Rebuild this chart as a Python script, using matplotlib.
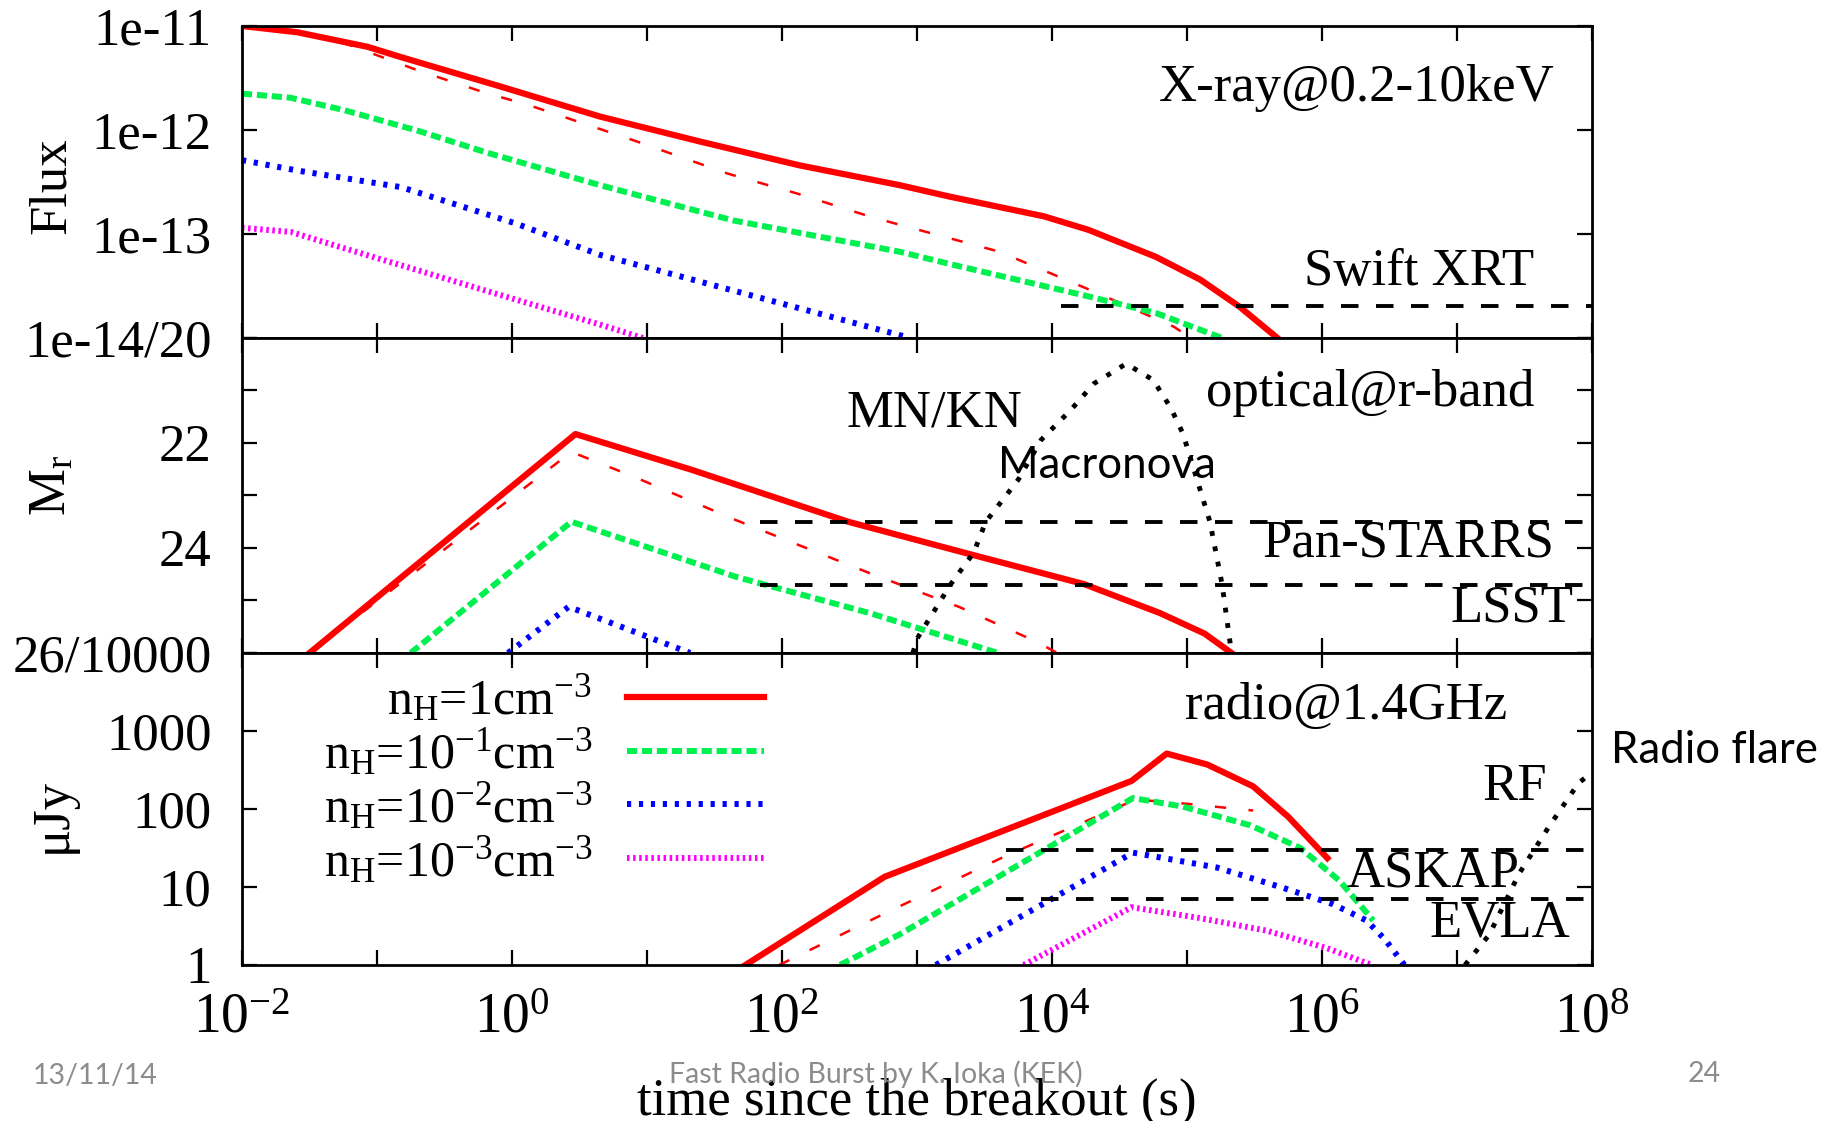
import numpy as np
import matplotlib
matplotlib.use("Agg")
import matplotlib.pyplot as plt
from matplotlib.ticker import FixedLocator, LogLocator, NullLocator, FuncFormatter, NullFormatter

plt.rcParams['font.family'] = ['Liberation Serif', 'DejaVu Serif']
plt.rcParams['mathtext.fontset'] = 'custom'
plt.rcParams['mathtext.rm'] = 'Liberation Serif'
plt.rcParams['mathtext.it'] = 'Liberation Serif'
plt.rcParams['mathtext.default'] = 'regular'

# ---------- data: log10(t [s]) and log10(value) ----------
# X-ray 0.2-10 keV flux
xr_n1_t = [-2, -1.59, -1.07, -0.82, -0.09, 0.65, 1.39, 2.13, 2.87, 3.24, 3.94, 4.27, 4.77, 5.10, 5.39, 5.67]
xr_n1_f = [-11.0, -11.06, -11.20, -11.30, -11.58, -11.87, -12.11, -12.34, -12.53, -12.64, -12.83, -12.96, -13.22, -13.44, -13.70, -14.0]
xr_alt_t = [-2, -1.55, -1.21, -0.69, -0.18, 0.10, 0.88, 1.60, 2.11, 2.67, 3.61, 4.34, 4.90, 5.03]
xr_alt_f = [-11.0, -11.06, -11.18, -11.43, -11.65, -11.75, -12.09, -12.42, -12.61, -12.84, -13.17, -13.57, -13.89, -14.0]
xr_n01_t = [-2, -1.64, -1.24, -0.69, -0.18, 0.65, 1.64, 2.87, 3.28, 4.27, 4.77, 5.26]
xr_n01_f = [-11.65, -11.69, -11.81, -12.01, -12.22, -12.53, -12.87, -13.17, -13.30, -13.60, -13.76, -14.0]
xr_n001_t = [-2, -1.59, -0.82, 0.03, 0.65, 1.80, 2.95]
xr_n001_f = [-12.29, -12.39, -12.55, -12.90, -13.20, -13.60, -14.0]
xr_n0001_t = [-2, -1.64, -1.21, 0.0, 0.65, 0.97]
xr_n0001_f = [-12.94, -12.98, -13.15, -13.62, -13.87, -14.0]
swift_t = [4.07, 8.0]
swift_f = [-13.69, -13.69]

# optical r-band absolute magnitude
op_n1_t = [-1.5, 0.47, 1.33, 2.49, 3.41, 4.24, 4.80, 5.13, 5.33]
op_n1_m = [26, 21.83, 22.51, 23.5, 24.13, 24.69, 25.24, 25.63, 26]
op_alt_t = [-1.5, 0.44, 0.90, 1.66, 2.65, 3.31, 3.88, 4.04]
op_alt_m = [26, 22.17, 22.64, 23.47, 24.48, 25.12, 25.78, 26]
op_n01_t = [-0.75, 0.44, 1.66, 2.65, 3.60]
op_n01_m = [26, 23.5, 24.55, 25.24, 26]
op_n001_t = [-0.03, 0.42, 1.32]
op_n001_m = [26, 25.12, 26]
mn_t = [2.97, 3.0, 3.25, 3.42, 3.51, 3.75, 3.92, 4.14, 4.31, 4.55, 4.75, 4.88, 4.97, 5.17, 5.26, 5.33]
mn_m = [26, 25.73, 24.69, 24.09, 23.5, 22.70, 21.94, 21.37, 20.87, 20.49, 20.80, 21.33, 21.82, 23.5, 24.69, 26]
panstarrs_t = [1.84, 8.0]
panstarrs_m = [23.5, 23.5]
lsst_t = [1.84, 8.0]
lsst_m = [24.7, 24.7]

# radio 1.4 GHz flux density (log10 uJy)
rd_n1_t = [1.73, 2.76, 4.59, 4.85, 5.15, 5.49, 5.75, 6.04]
rd_n1_s = [0, 1.13, 2.36, 2.71, 2.57, 2.29, 1.90, 1.37]
rd_alt_t = [1.98, 2.76, 3.66, 4.18, 4.62, 4.92, 5.49]
rd_alt_s = [0, 0.66, 1.40, 1.79, 2.12, 2.08, 1.98]
rd_n01_t = [2.43, 2.87, 4.60, 4.97, 5.47, 5.84, 6.13, 6.38]
rd_n01_s = [0, 0.39, 2.14, 2.03, 1.79, 1.50, 1.08, 0.57]
rd_n001_t = [3.14, 4.60, 5.22, 5.71, 6.08, 6.33, 6.47, 6.61]
rd_n001_s = [0, 1.44, 1.25, 0.99, 0.78, 0.57, 0.32, 0]
rd_n0001_t = [3.79, 4.59, 5.10, 5.59, 6.03, 6.37]
rd_n0001_s = [0, 0.74, 0.60, 0.44, 0.22, 0]
rf_t = [7.06, 7.24, 7.46, 7.68, 7.90, 8.0]
rf_s = [0, 0.39, 1.17, 1.77, 2.33, 2.47]
askap_t = [3.66, 8.0]
askap_s = [1.47, 1.47]
evla_t = [3.66, 8.0]
evla_s = [0.84, 0.84]

labels = [r'n$_H$=1cm$^{-3}$', r'n$_H$=10$^{-1}$cm$^{-3}$',
          r'n$_H$=10$^{-2}$cm$^{-3}$', r'n$_H$=10$^{-3}$cm$^{-3}$']

RED, GREEN, BLUE, MAG = '#ff0000', '#00f050', '#0000ff', '#ff00ff'
st_n1 = dict(color=RED, lw=4.5)
st_n01 = dict(color=GREEN, lw=4.3, dashes=(1.7, 0.8))
st_n001 = dict(color=BLUE, lw=4.3, dashes=(0.7, 1.3))
st_n0001 = dict(color=MAG, lw=4.3, dashes=(0.42, 0.6))
st_alt = dict(color=RED, lw=1.8, dashes=(4.5, 9))
st_lim = dict(color='black', lw=2.8, dashes=(4.5, 4.5))
st_dot = dict(color='black', lw=3.5, dashes=(1, 2.2))


def p(v):
    return 10 ** np.asarray(v, dtype=float)


fig = plt.figure(figsize=(18.25, 11.21), dpi=100)
L, W = 0.1326, 0.7397
ax1 = fig.add_axes([L, 0.6985, W, 0.2783])
ax2 = fig.add_axes([L, 0.4175, W, 0.2810])
ax3 = fig.add_axes([L, 0.1392, W, 0.2783])

# X-ray
ax1.plot(p(xr_alt_t), p(xr_alt_f), **st_alt)
ax1.plot(p(xr_n1_t), p(xr_n1_f), **st_n1)
ax1.plot(p(xr_n01_t), p(xr_n01_f), **st_n01)
ax1.plot(p(xr_n001_t), p(xr_n001_f), **st_n001)
ax1.plot(p(xr_n0001_t), p(xr_n0001_f), **st_n0001)
ax1.plot(p(swift_t), p(swift_f), **st_lim)
ax1.set_yscale('log')
ax1.set_ylim(1e-14, 1e-11)
ax1.yaxis.set_major_locator(FixedLocator([1e-14, 1e-13, 1e-12, 1e-11]))
ax1.set_yticklabels(['1e-14/20', '1e-13', '1e-12', '1e-11'])
ax1.yaxis.set_minor_locator(LogLocator(base=10, subs=np.arange(2, 10)))
ax1.yaxis.set_minor_formatter(NullFormatter())

# optical
ax2.plot(p(op_alt_t), op_alt_m, **st_alt)
ax2.plot(p(op_n1_t), op_n1_m, **st_n1)
ax2.plot(p(op_n01_t), op_n01_m, **st_n01)
ax2.plot(p(op_n001_t), op_n001_m, **st_n001)
ax2.plot(p(mn_t), mn_m, **st_dot)
ax2.plot(p(panstarrs_t), panstarrs_m, **st_lim)
ax2.plot(p(lsst_t), lsst_m, **st_lim)
ax2.set_ylim(26, 20)
ax2.yaxis.set_major_locator(FixedLocator([20, 21, 22, 23, 24, 25, 26]))
ax2.set_yticklabels(['', '', '22', '', '24', '', '26/10000'])
ax2.yaxis.set_minor_locator(NullLocator())

# radio
h1, = ax3.plot(p(rd_n1_t), p(rd_n1_s), **st_n1)
ax3.plot(p(rd_alt_t), p(rd_alt_s), **st_alt)
h2, = ax3.plot(p(rd_n01_t), p(rd_n01_s), **st_n01)
h3, = ax3.plot(p(rd_n001_t), p(rd_n001_s), **st_n001)
h4, = ax3.plot(p(rd_n0001_t), p(rd_n0001_s), **st_n0001)
ax3.plot(p(rf_t), p(rf_s), **st_dot)
ax3.plot(p(askap_t), p(askap_s), **st_lim)
ax3.plot(p(evla_t), p(evla_s), **st_lim)
ax3.set_yscale('log')
ax3.set_ylim(1, 1e4)
ax3.yaxis.set_major_locator(FixedLocator([1, 10, 100, 1000, 10000]))
ax3.set_yticklabels(['1', '10', '100', '1000', ''])
ax3.yaxis.set_minor_locator(LogLocator(base=10, subs=np.arange(2, 10)))
ax3.yaxis.set_minor_formatter(NullFormatter())

ax3.legend([h1, h2, h3, h4], labels, loc='upper right', bbox_to_anchor=(0.387, 0.935),
           frameon=False, markerfirst=False, fontsize=36, handlelength=2.75,
           handletextpad=0.7, labelspacing=0.04, borderpad=0, borderaxespad=0)


def xfmt(v, pos):
    e = int(round(np.log10(v)))
    return r'$10^{%d}$' % e if e % 2 == 0 else ''


for ax in (ax1, ax2, ax3):
    ax.set_xscale('log')
    ax.set_xlim(1e-2, 1e8)
    ax.xaxis.set_major_locator(FixedLocator(p(np.arange(-2, 9))))
    ax.xaxis.set_minor_locator(NullLocator())
    for s in ax.spines.values():
        s.set_linewidth(2)
    ax.tick_params(which='both', direction='in', top=True, right=True)
    ax.tick_params(which='major', length=11, width=1.6)
    ax.tick_params(which='minor', length=5.5, width=1.3)
    ax.tick_params(axis='y', labelsize=38, pad=22)
for ax in (ax1, ax2):
    ax.xaxis.set_major_formatter(NullFormatter())
ax3.xaxis.set_major_formatter(FuncFormatter(xfmt))
ax3.tick_params(axis='x', labelsize=40, pad=20)

tfs = 38
ax1.text(0.972, 0.80, 'X-ray@0.2-10keV', transform=ax1.transAxes, ha='right', va='center', fontsize=tfs)
ax1.text(0.957, 0.213, 'Swift XRT', transform=ax1.transAxes, ha='right', va='center', fontsize=tfs)
ax2.text(0.448, 0.761, 'MN/KN', transform=ax2.transAxes, ha='left', va='center', fontsize=tfs)
ax2.text(0.560, 0.596, 'Macronova', transform=ax2.transAxes, ha='left', va='center',
         fontsize=31.5, family='Lato')
ax2.text(0.957, 0.824, 'optical@r-band', transform=ax2.transAxes, ha='right', va='center', fontsize=tfs)
ax2.text(0.972, 0.346, 'Pan-STARRS', transform=ax2.transAxes, ha='right', va='center', fontsize=tfs)
ax2.text(0.986, 0.140, 'LSST', transform=ax2.transAxes, ha='right', va='center', fontsize=tfs)
ax3.text(0.937, 0.831, 'radio@1.4GHz', transform=ax3.transAxes, ha='right', va='center', fontsize=tfs)
ax3.text(0.967, 0.571, 'RF', transform=ax3.transAxes, ha='right', va='center', fontsize=tfs)
ax3.text(0.946, 0.293, 'ASKAP', transform=ax3.transAxes, ha='right', va='center', fontsize=tfs)
ax3.text(0.984, 0.132, 'EVLA', transform=ax3.transAxes, ha='right', va='center', fontsize=tfs)
ax3.text(1.014, 0.688, 'Radio flare', transform=ax3.transAxes, ha='left', va='center',
         fontsize=31.5, family='Lato', clip_on=False)

fig.text(0.0287, 0.834, 'Flux', rotation=90, ha='center', va='center', fontsize=tfs)
fig.text(0.0287, 0.567, r'M$_r$', rotation=90, ha='center', va='center', fontsize=tfs)
fig.text(0.0287, 0.273, 'μJy', rotation=90, ha='center', va='center', fontsize=tfs)
fig.text(0.5026, 0.006, 'time since the breakout (s)', ha='center', va='baseline', fontsize=tfs)

grey = '#8c8c8c'
fig.text(0.018, 0.040, '13/11/14', color=grey, fontsize=20.5, family='Lato', va='center', ha='left')
fig.text(0.4797, 0.042, 'Fast Radio Burst by K. Ioka (KEK)', color=grey, fontsize=20.5,
         family='Lato', va='center', ha='center')
fig.text(0.934, 0.042, '24', color=grey, fontsize=20.5, family='Lato', va='center', ha='center')

fig.savefig('out.png', dpi=100)
